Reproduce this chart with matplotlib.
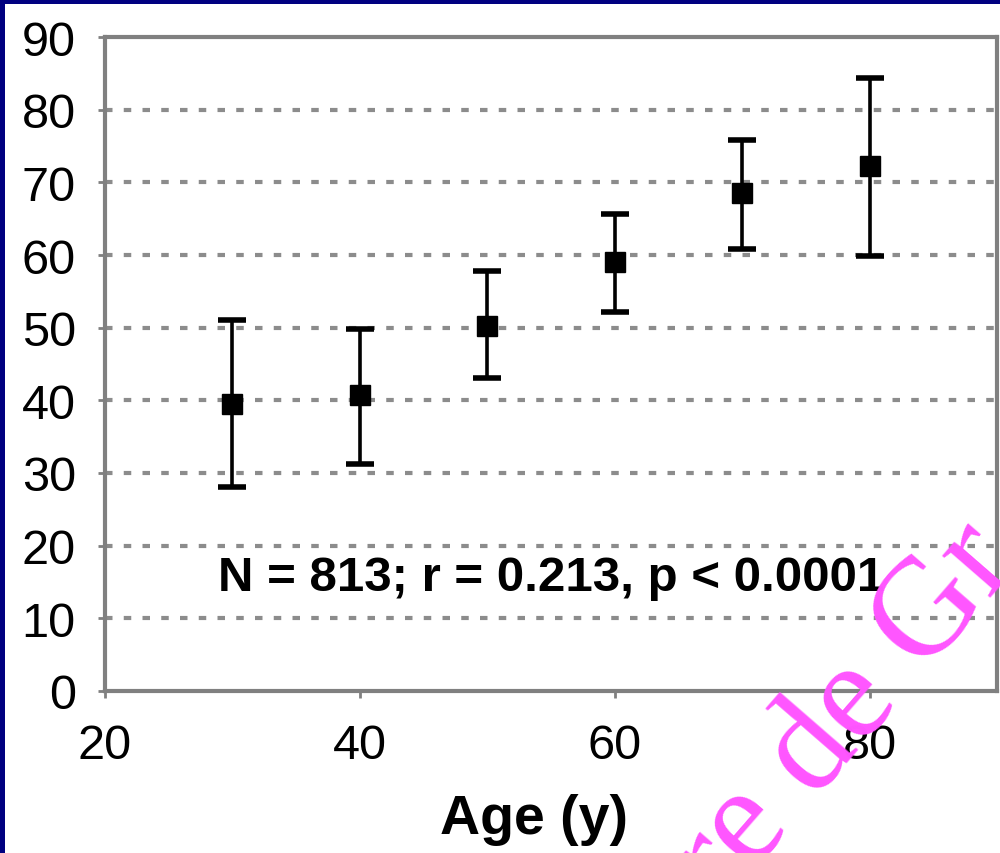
import matplotlib
matplotlib.use("Agg")
import matplotlib.pyplot as plt
from matplotlib.patches import Rectangle

# -------------------------
# Data
# -------------------------
ages = [30, 40, 50, 60, 70, 80]
means = [39.5, 40.7, 50.2, 59.0, 68.6, 72.2]
upper = [51.0, 49.8, 57.8, 65.6, 75.8, 84.3]
lower = [28.1, 31.2, 43.1, 52.1, 60.8, 59.8]
x_ticks = [20, 40, 60, 80]
y_ticks = [0, 10, 20, 30, 40, 50, 60, 70, 80, 90]
grid_levels = [10, 20, 30, 40, 50, 60, 70, 80]
stats_text = "N = 813; r = 0.213, p < 0.0001"
x_label = "Age (y)"
watermark = "re de Gr"

plt.rcParams['font.family'] = ['Liberation Sans', 'DejaVu Sans']

W, H = 1000, 854
fig = plt.figure(figsize=(W / 100, H / 100), dpi=100, facecolor='#000080')

# white slide panel inside the navy frame (kept behind the axes)
fig.patches.append(Rectangle((5 / W, 0), 1 - 5 / W, 1 - 5 / H,
                             transform=fig.transFigure, facecolor='white',
                             edgecolor='none', zorder=-10))

ax = fig.add_axes([105 / W, 1 - 692 / H, (997 - 105) / W, (692 - 38) / H])
ax.set_facecolor('white')

# dotted horizontal grid
for lvl in grid_levels:
    ax.axhline(lvl, color='#8c8c8c', lw=3, linestyle=(0, (1.8, 2.7)), zorder=1)

err_lo = [m - l for m, l in zip(means, lower)]
err_hi = [u - m for m, u in zip(means, upper)]
ax.errorbar(ages, means, yerr=[err_lo, err_hi], fmt='s', color='black',
            ecolor='black', ms=14, elinewidth=2.6, capsize=10, capthick=4,
            zorder=3)

ax.set_xlim(20, 90)
ax.set_ylim(0, 90)
ax.set_xticks(x_ticks)
ax.set_yticks(y_ticks)
ax.tick_params(axis='both', labelsize=35, color='#808080', width=2,
               length=5, direction='out')
ax.tick_params(axis='y', pad=16)
ax.tick_params(axis='x', pad=18)

for sp in ax.spines.values():
    sp.set_color('#808080')
    sp.set_linewidth(3)

ax.text(55.0, 15.6, stats_text, fontsize=35.5, fontweight='bold',
        ha='center', va='center', zorder=4,
        bbox=dict(facecolor='white', edgecolor='none', pad=2))

fig.text(534 / W, 1 - 820 / H, x_label, fontsize=40, fontweight='bold',
         ha='center', va='center')

# magenta watermark crossing the lower right corner
fig.text(845 / W, 1 - 715 / H, watermark, fontsize=100,
         family=['Liberation Serif', 'DejaVu Serif'], color='#ff55ff',
         rotation=49, rotation_mode='anchor', ha='center', va='center',
         zorder=10)

fig.savefig("out.png", dpi=100, facecolor=fig.get_facecolor())
